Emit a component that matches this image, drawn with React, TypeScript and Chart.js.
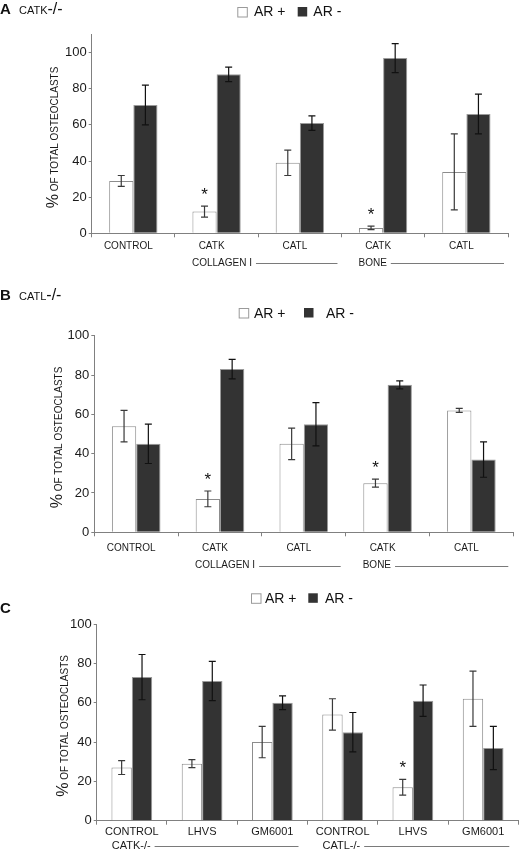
import React, { useEffect, useRef } from 'react';
import { Chart, registerables } from 'chart.js';

Chart.register(...registerables);

const FONT = '"Liberation Sans", Arial, Helvetica, sans-serif';

// ---------- Panel A : CATK-/- ----------
const categoriesA = ['CONTROL', 'CATK', 'CATL', 'CATK', 'CATL'];
const arPlusA = [29, 12, 39, 3, 34];
const arPlusErrA = [3, 3, 7, 1, 21];
const arMinusA = [71, 88, 61, 97, 66];
const arMinusErrA = [11, 4, 4, 8, 11];
const starsA = [false, true, false, true, false];
const groupsA = [
  { label: 'COLLAGEN I', from: 1, to: 2 },
  { label: 'BONE', from: 3, to: 4 },
];

// ---------- Panel B : CATL-/- ----------
const categoriesB = ['CONTROL', 'CATK', 'CATL', 'CATK', 'CATL'];
const arPlusB = [54, 17, 45, 25, 62];
const arPlusErrB = [8, 4, 8, 2, 1];
const arMinusB = [45, 83, 55, 75, 37];
const arMinusErrB = [10, 5, 11, 2, 9];
const starsB = [false, true, false, true, false];
const groupsB = [
  { label: 'COLLAGEN I', from: 1, to: 2 },
  { label: 'BONE', from: 3, to: 4 },
];

// ---------- Panel C ----------
const categoriesC = ['CONTROL', 'LHVS', 'GM6001', 'CONTROL', 'LHVS', 'GM6001'];
const arPlusC = [27, 29, 40, 54, 17, 62];
const arPlusErrC = [3.5, 2, 8, 8, 4, 14];
const arMinusC = [73, 71, 60, 45, 61, 37];
const arMinusErrC = [11.5, 10, 3.5, 10, 8, 11];
const starsC = [false, false, false, false, true, false];
const groupsC = [
  { label: 'CATK-/-', from: 0, to: 2 },
  { label: 'CATL-/-', from: 3, to: 5 },
];

const legendLabels = ['AR +', 'AR -'];
const yTicksStep = 20;

type Group = { label: string; from: number; to: number };

type PanelSpec = {
  top: number;
  height: number;
  categories: string[];
  plus: number[];
  plusErr: number[];
  minus: number[];
  minusErr: number[];
  stars: boolean[];
  groups: Group[];
  yMax: number;
  padding: { top: number; left: number; right: number; bottom: number };
  xAxisHeight: number;
  xFont: number;
  xPad: number;
  labelOffset: number;
  title: { letter: string; sub: string; suffix: string; baseline: number };
  legend: { boxTop: number; baseline: number; xs: number[] };
  yTitleGap: number;
  groupY: number;
  groupFont: number;
  groupInset: number;
  groupEndInset: number;
};

const panels: PanelSpec[] = [
  {
    top: 0,
    height: 280,
    categories: categoriesA,
    plus: arPlusA,
    plusErr: arPlusErrA,
    minus: arMinusA,
    minusErr: arMinusErrA,
    stars: starsA,
    groups: groupsA,
    yMax: 110,
    padding: { top: 34.6, left: 31.7, right: 12, bottom: 0 },
    xAxisHeight: 46.7,
    xFont: 10,
    xPad: 3.4,
    labelOffset: -5,
    title: { letter: 'A', sub: 'CATK', suffix: '-/-', baseline: 14 },
    legend: { boxTop: 7, baseline: 16, xs: [237.3, 254, 297.7, 313.3] },
    yTitleGap: 33.4,
    groupY: 263.3,
    groupFont: 10,
    groupInset: 17,
    groupEndInset: 4,
  },
  {
    top: 280,
    height: 295,
    categories: categoriesB,
    plus: arPlusB,
    plusErr: arPlusErrB,
    minus: arMinusB,
    minusErr: arMinusErrB,
    stars: starsB,
    groups: groupsB,
    yMax: 100,
    padding: { top: 55.7, left: 34.3, right: 6.7, bottom: 0 },
    xAxisHeight: 42.7,
    xFont: 10,
    xPad: 6,
    labelOffset: -5,
    title: { letter: 'B', sub: 'CATL', suffix: '-/-', baseline: 20 },
    legend: { boxTop: 28, baseline: 37.7, xs: [238.7, 254, 304, 326] },
    yTitleGap: 32.6,
    groupY: 285.7,
    groupFont: 10,
    groupInset: 17,
    groupEndInset: 5,
  },
  {
    top: 575,
    height: 274,
    categories: categoriesC,
    plus: arPlusC,
    plusErr: arPlusErrC,
    minus: arMinusC,
    minusErr: arMinusErrC,
    stars: starsC,
    groups: groupsC,
    yMax: 100,
    padding: { top: 49, left: 36.7, right: 1.7, bottom: 0 },
    xAxisHeight: 28.3,
    xFont: 11,
    xPad: 0.5,
    labelOffset: 0,
    title: { letter: 'C', sub: '', suffix: '', baseline: 37.7 },
    legend: { boxTop: 18.3, baseline: 27.7, xs: [251, 265, 308.3, 325] },
    yTitleGap: 28.4,
    groupY: 271,
    groupFont: 11,
    groupInset: 15,
    groupEndInset: 9,
  },
];

function makeOverlay(spec: PanelSpec) {
  return {
    id: 'overlay',
    afterDatasetsDraw(chart: any) {
      const ctx = chart.ctx;
      const ys = chart.scales.y;
      const errs = [spec.plusErr, spec.minusErr];
      chart.data.datasets.forEach((ds: any, di: number) => {
        const meta = chart.getDatasetMeta(di);
        meta.data.forEach((el: any, i: number) => {
          const v = ds.data[i];
          const e = errs[di][i];
          const px = el.x;
          const yt = ys.getPixelForValue(v + e);
          const yb = ys.getPixelForValue(v - e);
          ctx.save();
          ctx.strokeStyle = di === 0 ? '#3a3a3a' : '#111111';
          ctx.lineWidth = 1.2;
          ctx.beginPath();
          ctx.moveTo(px, yt);
          ctx.lineTo(px, yb);
          ctx.moveTo(px - 3.5, yt);
          ctx.lineTo(px + 3.5, yt);
          ctx.moveTo(px - 3.5, yb);
          ctx.lineTo(px + 3.5, yb);
          ctx.stroke();
          if (di === 0 && spec.stars[i]) {
            ctx.fillStyle = '#111';
            ctx.font = `17px ${FONT}`;
            ctx.textAlign = 'center';
            ctx.textBaseline = 'alphabetic';
            ctx.fillText('*', px, yt - 6.5);
          }
          ctx.restore();
        });
      });
    },
    afterDraw(chart: any) {
      const ctx = chart.ctx;
      const area = chart.chartArea;
      const xs = chart.scales.x;
      ctx.save();
      ctx.textAlign = 'left';
      ctx.textBaseline = 'alphabetic';
      ctx.fillStyle = '#111';

      // Panel title
      let tx = 0;
      ctx.font = `bold 15px ${FONT}`;
      ctx.fillText(spec.title.letter, tx, spec.title.baseline);
      tx = 19;
      if (spec.title.sub) {
        ctx.font = `11px ${FONT}`;
        ctx.fillText(spec.title.sub, tx, spec.title.baseline);
        tx += ctx.measureText(spec.title.sub).width;
        ctx.font = `16px ${FONT}`;
        ctx.fillText(spec.title.suffix, tx, spec.title.baseline);
      }

      // Legend
      const L = spec.legend;
      const box = 10.5;
      ctx.lineWidth = 1;
      ctx.fillStyle = '#ffffff';
      ctx.strokeStyle = '#9a9a9a';
      ctx.fillRect(L.xs[0], L.boxTop, box, box);
      ctx.strokeRect(L.xs[0] + 0.5, L.boxTop + 0.5, box - 1, box - 1);
      ctx.fillStyle = '#333333';
      ctx.fillRect(L.xs[2], L.boxTop, box - 1, box - 1);
      ctx.fillStyle = '#111';
      ctx.font = `14px ${FONT}`;
      ctx.fillText(legendLabels[0], L.xs[1], L.baseline);
      ctx.fillText(legendLabels[1], L.xs[3], L.baseline);

      // Y axis title (rotated, mixed sizes)
      const bx = area.left - spec.yTitleGap;
      const cy = (area.top + area.bottom) / 2 + 3.5;
      ctx.save();
      ctx.translate(bx, cy);
      ctx.rotate(-Math.PI / 2);
      ctx.font = `16px ${FONT}`;
      const wPct = ctx.measureText('%').width;
      ctx.font = `10px ${FONT}`;
      const rest = ' OF TOTAL OSTEOCLASTS';
      const wRest = ctx.measureText(rest).width;
      const start = -(wPct + wRest) / 2;
      ctx.fillStyle = '#1a1a1a';
      ctx.font = `16px ${FONT}`;
      ctx.fillText('%', start, 0);
      ctx.font = `10px ${FONT}`;
      ctx.fillText(rest, start + wPct, 0);
      ctx.restore();

      // Group labels under the x axis
      const n = spec.categories.length;
      const cw = (xs.right - xs.left) / n;
      ctx.font = `${spec.groupFont}px ${FONT}`;
      ctx.fillStyle = '#1a1a1a';
      ctx.textBaseline = 'middle';
      ctx.strokeStyle = '#7a7a7a';
      ctx.lineWidth = 1;
      spec.groups.forEach((g) => {
        const left = xs.getPixelForValue(g.from) - cw / 2;
        const right = xs.getPixelForValue(g.to) + cw / 2;
        const textX = left + spec.groupInset;
        ctx.fillText(g.label, textX, spec.groupY);
        const tw = ctx.measureText(g.label).width;
        ctx.beginPath();
        const ly = Math.round(spec.groupY) + 0.5;
        ctx.moveTo(textX + tw + 4, ly);
        ctx.lineTo(right - spec.groupEndInset, ly);
        ctx.stroke();
      });
      ctx.restore();
    },
  };
}

function Panel({ spec }: { spec: PanelSpec }) {
  const ref = useRef<HTMLCanvasElement | null>(null);
  useEffect(() => {
    if (!ref.current) return;
    const chart = new Chart(ref.current, {
      type: 'bar',
      data: {
        labels: spec.categories,
        datasets: [
          {
            label: legendLabels[0],
            data: spec.plus,
            backgroundColor: '#ffffff',
            borderColor: '#8c8c8c',
            borderWidth: 1,
            categoryPercentage: 0.58,
            barPercentage: 1,
          },
          {
            label: legendLabels[1],
            data: spec.minus,
            backgroundColor: '#333333',
            borderColor: '#9a9a9a',
            borderWidth: 1,
            categoryPercentage: 0.58,
            barPercentage: 1,
          },
        ],
      },
      options: {
        responsive: false,
        animation: false,
        devicePixelRatio: 1,
        layout: { padding: spec.padding },
        plugins: {
          legend: { display: false },
          tooltip: { enabled: false },
          title: { display: false },
        },
        scales: {
          x: {
            type: 'category',
            offset: true,
            grid: {
              display: true,
              offset: true,
              drawOnChartArea: false,
              drawTicks: true,
              tickLength: 4,
              color: '#808080',
              lineWidth: 1,
            },
            border: { display: true, color: '#808080', width: 1 },
            ticks: {
              font: { family: FONT, size: spec.xFont },
              color: '#1a1a1a',
              padding: spec.xPad,
              labelOffset: spec.labelOffset,
              maxRotation: 0,
              autoSkip: false,
            },
            afterFit: (s: any) => {
              s.height = spec.xAxisHeight;
            },
          },
          y: {
            min: 0,
            max: spec.yMax,
            grid: {
              display: true,
              drawOnChartArea: false,
              drawTicks: true,
              tickLength: 3,
              color: '#808080',
            },
            border: { display: true, color: '#808080', width: 1 },
            ticks: {
              stepSize: yTicksStep,
              includeBounds: false,
              font: { family: FONT, size: 13 },
              color: '#1a1a1a',
              padding: 2,
            },
            afterFit: (s: any) => {
              s.width = 60;
            },
          },
        },
      } as any,
      plugins: [makeOverlay(spec)],
    });
    return () => chart.destroy();
  }, [spec]);
  return (
    <canvas
      ref={ref}
      width={520}
      height={spec.height}
      style={{ position: 'absolute', left: 0, top: spec.top, width: 520, height: spec.height }}
    />
  );
}

export default function App() {
  return (
    <div
      style={{
        position: 'absolute',
        left: 0,
        top: 0,
        width: 520,
        height: 849,
        background: '#ffffff',
        overflow: 'hidden',
      }}
    >
      {panels.map((p, i) => (
        <Panel key={i} spec={p} />
      ))}
    </div>
  );
}
